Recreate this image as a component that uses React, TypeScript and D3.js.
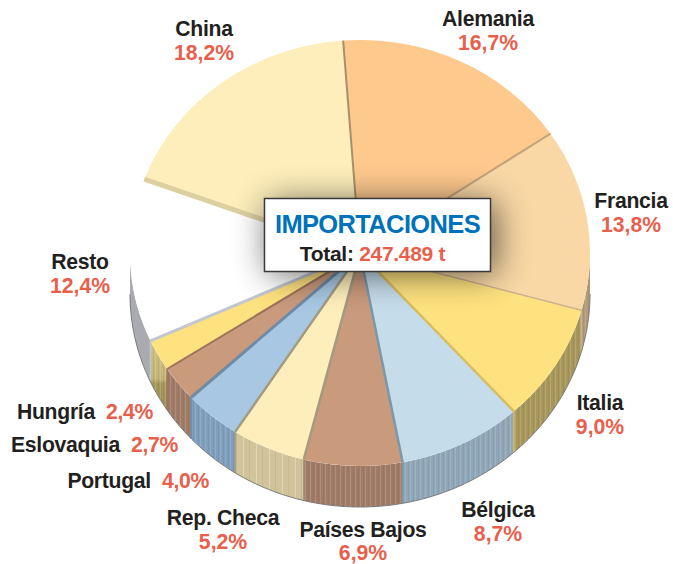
import React from 'react';
import * as d3 from 'd3';

// slices clockwise, starting at the China/Alemania boundary
const countries = ['Alemania', 'Francia', 'Italia', 'Bélgica', 'Países Bajos', 'Rep. Checa', 'Portugal', 'Eslovaquia', 'Hungría', 'Resto', 'China'];
const shares = [16.7, 13.8, 9.0, 8.7, 6.9, 5.2, 4.0, 2.7, 2.4, 12.4, 18.2];
const topColors = ['#fdc98d', '#f9d8a6', '#fee27f', '#c5dcea', '#c99a7c', '#fdeebb', '#a7c7e3', '#c99a7c', '#fee27f', '#ffffff', '#fdeebb'];
const wallColors = ['#b08f68', '#b29a78', '#a8975a', '#90a7b7', '#a07c66', '#d2c49a', '#7f9fbc', '#a07c66', 'url(#hungria)', '#a9abb0', '#c4b88f'];
const wallStripes = ['fine', 'fine', 'fine', 'fine', 'fine', 'wide', 'fine', 'fine', 'fine', 'none', 'none'];
// line along the end boundary of every slice
const edgeColors = ['#c4a27c', '#cdb08f', '#d9bd62', '#7d98aa', '#a39a80', '#a39a80', '#6f8ba6', '#9c735a', '#c2c6cf', '#ddd0a0', '#a8916a'];
const edgeWidths = [2, 1.5, 2.5, 2.5, 2.5, 2.5, 3, 2, 3, 5, 2];

const W = 673;
const H = 564;
const cx = 360;
const cy = 253;
const rx = 230;
const ry = 213;
const depth = 41;

const fmt = (v: number) => v.toFixed(1).replace('.', ',') + '%';

const pieGen = d3.pie<number>().sort(null).startAngle((-4.2 * Math.PI) / 180).endAngle((355.8 * Math.PI) / 180);
const arcs = pieGen(shares);
const arcGen = d3.arc<d3.PieArcDatum<number>>().innerRadius(0).outerRadius(rx);

const ellipsePoint = (a: number): [number, number] => {
  const [x, y] = d3.pointRadial(a, 1);
  return [x * rx, y * ry];
};

// wall of a slice: only the front half of the rim can be seen
function wallPath(a0: number, a1: number) {
  const lo = Math.max(a0, Math.PI / 2);
  const hi = Math.min(a1, (3 * Math.PI) / 2);
  if (hi <= lo) return null;
  const angles = d3.range(lo, hi, 0.01).concat([hi]);
  const top = angles.map(ellipsePoint);
  const bottom = angles.slice().reverse().map(a => {
    const [x, y] = ellipsePoint(a);
    return [x, y + depth] as [number, number];
  });
  return d3.line()([...top, ...bottom]) + 'Z';
}

type Lab = { name: string; x: number; y: number; gap?: number };
const stacked: Lab[] = [
  { name: 'China', x: 204, y: 36 },
  { name: 'Alemania', x: 488, y: 26 },
  { name: 'Francia', x: 631, y: 208 },
  { name: 'Resto', x: 80, y: 269 },
  { name: 'Italia', x: 600, y: 410 },
  { name: 'Bélgica', x: 498, y: 517 },
  { name: 'Países Bajos', x: 363, y: 537, gap: 22.5 },
  { name: 'Rep. Checa', x: 223, y: 525 },
];
const inline: Lab[] = [
  { name: 'Hungría', x: 153, y: 419 },
  { name: 'Eslovaquia', x: 178, y: 452 },
  { name: 'Portugal', x: 209, y: 488 },
];

const shareOf = (name: string) => shares[countries.indexOf(name)];
const INK = '#231f20';
const RED = '#e8604c';
const FONT = '"Liberation Sans", Arial, sans-serif';
const SIZE = 21.2;

export default function App() {
  return (
    <svg width={W} height={H} viewBox={`0 0 ${W} ${H}`} style={{ position: 'absolute', left: 0, top: 0 }} fontFamily={FONT} fontWeight="bold">
      <defs>
        <filter id="blur" x="-30%" y="-60%" width="160%" height="220%">
          <feGaussianBlur stdDeviation="17" />
        </filter>
        <pattern id="fine" width="5" height="10" patternUnits="userSpaceOnUse">
          <rect x="0" width="1" height="10" fill="#fff" opacity="0.14" />
          <rect x="3" width="1" height="10" fill="#000" opacity="0.05" />
        </pattern>
        <pattern id="wide" width="13" height="10" patternUnits="userSpaceOnUse">
          <rect x="0" width="1" height="10" fill="#fff" opacity="0.3" />
          <rect x="6" width="1" height="10" fill="#000" opacity="0.06" />
        </pattern>
        <linearGradient id="hungria" x1="0" y1="0" x2="0" y2="1">
          <stop offset="0" stopColor="#cfc182" />
          <stop offset="0.55" stopColor="#c4b576" />
          <stop offset="0.62" stopColor="#a3975a" />
          <stop offset="1" stopColor="#9d9155" />
        </linearGradient>
        <clipPath id="pieClip">
          <ellipse cx={cx} cy={cy} rx={rx} ry={ry} />
        </clipPath>
      </defs>

      <g transform={`translate(${cx},${cy})`}>
        {arcs.map((d, i) => {
          const p = wallPath(d.startAngle, d.endAngle);
          return p ? (
            <g key={countries[i]}>
              <path d={p} fill={wallColors[i]} />
              {wallStripes[i] !== 'none' && <path d={p} fill={`url(#${wallStripes[i]})`} />}
            </g>
          ) : null;
        })}
        {/* seams between the walls */}
        {arcs.map((d, i) => {
          if (d.endAngle <= Math.PI / 2 || d.endAngle >= (3 * Math.PI) / 2) return null;
          const [x, y] = ellipsePoint(d.endAngle);
          return <line key={countries[i]} x1={x} y1={y} x2={x} y2={y + depth} stroke={edgeColors[i]} strokeWidth={1.5} />;
        })}
        <path
          d={d3.line()(
            d3.range(Math.PI / 2, (3 * Math.PI) / 2, 0.01).map(a => {
              const [x, y] = ellipsePoint(a);
              return [x, y + depth] as [number, number];
            }),
          ) ?? ''}
          fill="none"
          stroke="#77797d"
          strokeWidth={1}
        />
        <g transform={`scale(1,${ry / rx})`}>
          {arcs.map((d, i) => (
            <path key={countries[i]} d={arcGen(d) ?? ''} fill={topColors[i]} />
          ))}
        </g>
        {arcs.map((d, i) => {
          const [x, y] = ellipsePoint(d.endAngle);
          return <line key={countries[i]} x1={0} y1={0} x2={x} y2={y} stroke={edgeColors[i]} strokeWidth={edgeWidths[i]} />;
        })}
      </g>

      {/* shadow of the box only falls on the pie */}
      <g clipPath="url(#pieClip)">
        <rect x={268} y={202} width={228} height={72} fill="#000" opacity={0.6} filter="url(#blur)" />
      </g>
      <rect x={264.5} y={198.5} width={226} height={73} fill="#fff" stroke="#3a3a3c" strokeWidth={1.5} />
      <text x={377.5} y={233} textAnchor="middle" fontSize={25.5} fill="#0072bc" letterSpacing={-0.65}>IMPORTACIONES</text>
      <text x={372.5} y={261} textAnchor="middle" fontSize={21} letterSpacing={-0.3}>
        <tspan fill={INK}>Total: </tspan>
        <tspan fill={RED}>247.489 t</tspan>
      </text>

      {stacked.map(l => (
        <g key={l.name} textAnchor="middle" fontSize={SIZE}>
          <text x={l.x} y={l.y} fill={INK} letterSpacing={-0.3}>{l.name}</text>
          <text x={l.x} y={l.y + (l.gap ?? 24)} fill={RED}>{fmt(shareOf(l.name))}</text>
        </g>
      ))}
      {inline.map(l => (
        <text key={l.name} x={l.x} y={l.y} textAnchor="end" fontSize={SIZE} letterSpacing={-0.3}>
          <tspan fill={INK}>{l.name}</tspan>
          <tspan fill={RED} dx={11}>{fmt(shareOf(l.name))}</tspan>
        </text>
      ))}
    </svg>
  );
}
